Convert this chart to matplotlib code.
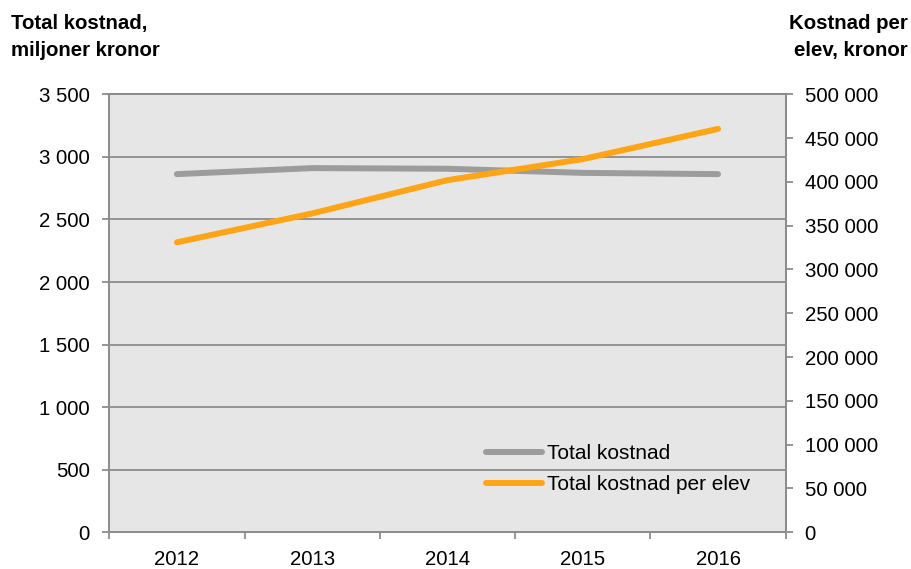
import numpy as np
import matplotlib.pyplot as plt

# data
years = ['2012', '2013', '2014', '2015', '2016']
total_cost = [2862, 2910, 2905, 2872, 2862]          # miljoner kronor
cost_per_student = [331000, 364000, 402000, 426000, 460500]  # kronor
left_ticks = [0, 500, 1000, 1500, 2000, 2500, 3000, 3500]
right_ticks = [0, 50000, 100000, 150000, 200000, 250000, 300000, 350000, 400000, 450000, 500000]

plt.rcParams['font.family'] = ['Liberation Sans', 'DejaVu Sans']

gray = '#9C9C9C'
orange = '#FFA515'
axis_col = '#8C8C8C'
fs = 14.7


def fmt(v):
    return f'{v:,}'.replace(',', ' ')


fig = plt.figure(figsize=(9.12, 5.69), dpi=100)
ax = fig.add_axes([0.1198, 0.0645, 0.7417, 0.7698])
ax2 = ax.twinx()

x = np.arange(len(years))
ax.set_facecolor('#E6E6E6')
ax.set_xlim(-0.5, len(years) - 0.5)
ax.set_ylim(0, 3500)
ax2.set_ylim(0, 500000)

for v in left_ticks[1:]:
    ax.axhline(v, color=axis_col, lw=1.3, zorder=1)

l1, = ax.plot(x, total_cost, color=gray, lw=4.3, solid_capstyle='round', zorder=3)
l2, = ax2.plot(x, cost_per_student, color=orange, lw=4.3, solid_capstyle='round', zorder=3)

ax.set_yticks(left_ticks)
ax.set_yticklabels([fmt(v) for v in left_ticks])
ax2.set_yticks(right_ticks)
ax2.set_yticklabels([fmt(v) for v in right_ticks])

ax.set_xticks(x)
ax.set_xticklabels(years)
ax.set_xticks(np.arange(-0.5, len(years)), minor=True)
ax.tick_params(axis='x', which='major', length=0, pad=13, labelsize=fs)
ax.tick_params(axis='x', which='minor', length=5, color=axis_col, width=1.3)
ax.tick_params(axis='y', length=5, color=axis_col, width=1.3, labelsize=fs, pad=9.2)
ax2.tick_params(axis='y', length=5, color=axis_col, width=1.3, labelsize=fs, pad=8.6)

for a in (ax, ax2):
    for s in a.spines.values():
        s.set_color(axis_col)
        s.set_linewidth(1.3)

leg = ax2.legend([l1, l2], ['Total kostnad', 'Total kostnad per elev'],
                 loc='lower left', bbox_to_anchor=(0.557, 0.087), frameon=False,
                 fontsize=15, handlelength=2.7, handletextpad=0.22,
                 labelspacing=0.59, borderpad=0, borderaxespad=0)

fig.text(0.012, 0.975, 'Total kostnad,\nmiljoner kronor', fontsize=fs,
         fontweight='bold', va='top', ha='left', linespacing=1.5)
fig.text(0.995, 0.975, 'Kostnad per\nelev, kronor', fontsize=fs,
         fontweight='bold', va='top', ha='right', linespacing=1.5)

fig.savefig('out.png', dpi=100)
